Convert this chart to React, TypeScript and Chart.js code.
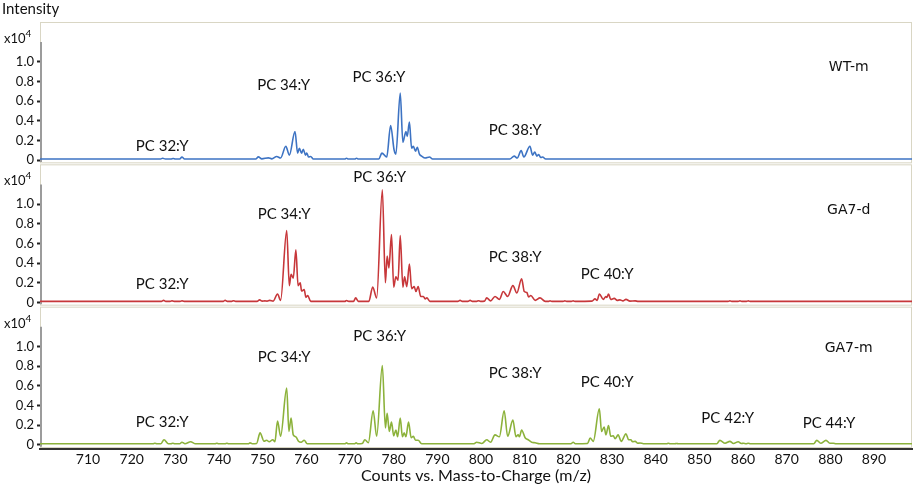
import { useEffect, useRef } from 'react'
import { Chart, registerables, type Plugin, type Scale } from 'chart.js'

Chart.register(...registerables)

// m/z window and intensity window (x10^4) shared by all three panels
const X_MIN = 699
const X_MAX = 898.7
const Y_MIN = -0.044
const Y_MAX = 1.404

const xTicks = [710, 720, 730, 740, 750, 760, 770, 780, 790, 800, 810, 820, 830, 840, 850, 860, 870, 880, 890]
const yTicks = [0, 0.2, 0.4, 0.6, 0.8, 1.0]

const panelNames = ['WT-m', 'GA7-d', 'GA7-m']
const panelNameMz = 884.2
const panelNameY = [0.94, 0.94, 0.98]
const panelColors = ['#3d73c3', '#c7373a', '#8cb23b']
const panelAxes = ['yA', 'yB', 'yC']

// spectra as [m/z, intensity x10^4] (peak tops and valleys)
const wtM: [number, number][] = [
  [699, 0.01],
  [726.6, 0.01], [727.1, 0.018], [727.7, 0.01], [729.0, 0.01], [729.5, 0.016], [730.0, 0.01],
  [731.0, 0.01], [731.5, 0.03], [732.1, 0.01],
  [748.4, 0.01], [749.0, 0.032], [749.8, 0.012], [751.3, 0.022], [752.1, 0.012], [753.2, 0.035],
  [754.1, 0.02], [755.3, 0.14], [756.1, 0.05], [757.4, 0.29], [758.0, 0.07], [758.4, 0.12],
  [758.9, 0.07], [759.3, 0.11], [759.8, 0.05], [760.1, 0.07], [760.5, 0.03], [761.0, 0.035], [761.6, 0.01],
  [768.8, 0.01], [769.2, 0.018], [769.6, 0.01], [771.1, 0.01], [771.5, 0.018], [771.9, 0.01],
  [776.6, 0.01], [777.3, 0.07], [778.4, 0.03], [779.3, 0.35], [780.1, 0.1], [780.5, 0.06],
  [781.5, 0.68], [782.1, 0.18], [782.8, 0.29], [783.1, 0.24], [783.6, 0.385], [784.1, 0.12],
  [784.5, 0.14], [785.0, 0.09], [785.4, 0.13], [785.9, 0.06], [786.4, 0.04], [787.2, 0.02],
  [788.2, 0.03], [788.9, 0.01],
  [806.6, 0.01], [807.6, 0.04], [808.3, 0.02], [809.2, 0.095], [809.8, 0.03], [811.2, 0.14],
  [811.8, 0.05], [812.3, 0.08], [812.8, 0.04], [813.2, 0.055], [813.7, 0.025], [814.1, 0.03], [814.8, 0.01],
  [898.7, 0.01],
]

const ga7d: [number, number][] = [
  [699, 0.01],
  [726.8, 0.01], [727.3, 0.02], [727.8, 0.01], [728.8, 0.01], [729.2, 0.015], [729.7, 0.01],
  [731.1, 0.01], [731.5, 0.015], [732.0, 0.01],
  [741.0, 0.01], [741.4, 0.022], [741.9, 0.01], [742.9, 0.01], [743.3, 0.016], [743.8, 0.01],
  [748.7, 0.01], [749.3, 0.025], [749.9, 0.012], [750.5, 0.015], [751.0, 0.012], [751.6, 0.02],
  [752.4, 0.012], [753.4, 0.085], [754.1, 0.02], [755.5, 0.73], [756.1, 0.17], [756.5, 0.285],
  [757.0, 0.245], [757.6, 0.535], [758.1, 0.17], [758.6, 0.2], [758.9, 0.115], [759.5, 0.13],
  [759.9, 0.05], [760.3, 0.07], [761.0, 0.01],
  [768.8, 0.01], [769.2, 0.018], [769.7, 0.01], [770.8, 0.01], [771.3, 0.045], [771.9, 0.01],
  [774.3, 0.01], [775.2, 0.155], [776.1, 0.045], [777.4, 1.145], [778.1, 0.2], [778.5, 0.47],
  [778.9, 0.35], [779.5, 0.69], [780.0, 0.155], [780.5, 0.26], [781.0, 0.225], [781.5, 0.68],
  [782.1, 0.155], [782.5, 0.26], [783.0, 0.16], [783.6, 0.39], [784.1, 0.14], [784.7, 0.16],
  [785.1, 0.11], [785.6, 0.16], [786.2, 0.06], [786.8, 0.06], [787.2, 0.035], [787.6, 0.045], [788.3, 0.01],
  [794.7, 0.01], [795.2, 0.02], [795.7, 0.01], [797.0, 0.01], [797.5, 0.02], [798.0, 0.01],
  [799.0, 0.01], [799.4, 0.016], [799.9, 0.01], [800.8, 0.012], [801.3, 0.045], [802.2, 0.015],
  [803.2, 0.06], [804.2, 0.03], [805.1, 0.11], [806.1, 0.06], [807.3, 0.17], [808.2, 0.095],
  [809.3, 0.24], [809.9, 0.11], [810.5, 0.1], [810.9, 0.055], [811.4, 0.07], [812.4, 0.02],
  [813.5, 0.045], [814.7, 0.01], [815.5, 0.01], [815.8, 0.015], [816.2, 0.01],
  [818.8, 0.01], [819.2, 0.015], [819.6, 0.01], [820.7, 0.01], [821.1, 0.015], [821.5, 0.01],
  [825.4, 0.012], [826.1, 0.035], [826.6, 0.02], [827.1, 0.085], [828.0, 0.03], [828.6, 0.06],
  [828.8, 0.05], [829.2, 0.085], [829.7, 0.03], [830.5, 0.04], [831.2, 0.02], [831.8, 0.025],
  [832.5, 0.015], [833.2, 0.03], [834.1, 0.012], [835.3, 0.015], [836.0, 0.01],
  [856.6, 0.01], [857.0, 0.015], [857.4, 0.01], [858.9, 0.01], [859.3, 0.015], [859.7, 0.01],
  [860.8, 0.01], [861.2, 0.015], [861.6, 0.01],
  [898.7, 0.01],
]

const ga7m: [number, number][] = [
  [699, 0.01],
  [724.9, 0.01], [725.3, 0.015], [725.8, 0.01], [726.7, 0.01], [727.4, 0.05], [728.4, 0.01],
  [729.0, 0.01], [729.4, 0.014], [729.9, 0.01], [731.0, 0.01], [731.5, 0.025], [732.2, 0.01],
  [733.5, 0.03], [734.5, 0.01],
  [739.1, 0.01], [739.5, 0.015], [739.9, 0.01], [741.4, 0.01], [741.8, 0.015], [742.2, 0.01],
  [746.7, 0.01], [747.1, 0.018], [747.6, 0.01], [748.6, 0.012], [749.4, 0.12], [750.3, 0.035],
  [750.9, 0.045], [751.5, 0.03], [752.3, 0.05], [752.8, 0.03], [753.4, 0.24], [754.1, 0.085],
  [755.5, 0.575], [756.0, 0.135], [756.5, 0.27], [757.0, 0.1], [757.6, 0.08], [758.2, 0.035],
  [758.8, 0.025], [759.5, 0.045], [760.2, 0.01],
  [768.8, 0.01], [769.2, 0.018], [769.6, 0.01], [771.0, 0.01], [771.4, 0.018], [771.8, 0.01],
  [772.8, 0.012], [773.4, 0.05], [774.2, 0.02], [775.3, 0.345], [776.1, 0.085], [777.4, 0.805],
  [778.1, 0.17], [778.5, 0.32], [779.0, 0.135], [779.5, 0.23], [780.0, 0.09], [780.5, 0.15],
  [780.9, 0.08], [781.5, 0.27], [782.0, 0.08], [782.4, 0.12], [782.8, 0.08], [783.4, 0.23],
  [784.0, 0.07], [784.5, 0.085], [785.0, 0.045], [785.6, 0.045], [786.4, 0.01],
  [798.4, 0.01], [799.0, 0.025], [800.2, 0.012], [801.3, 0.05], [802.2, 0.025], [803.2, 0.1],
  [804.2, 0.08], [805.3, 0.345], [806.1, 0.085], [807.3, 0.25], [808.0, 0.08], [808.5, 0.1],
  [808.8, 0.08], [809.3, 0.15], [810.1, 0.07], [810.8, 0.05], [811.6, 0.025], [812.4, 0.02], [813.4, 0.01],
  [820.6, 0.01], [821.1, 0.024], [821.6, 0.01], [824.4, 0.012], [825.0, 0.068], [825.7, 0.034],
  [827.1, 0.365], [827.6, 0.135], [828.2, 0.18], [828.6, 0.1], [829.2, 0.195], [829.7, 0.085],
  [830.3, 0.09], [830.7, 0.06], [831.4, 0.1], [832.1, 0.034], [833.2, 0.11], [833.8, 0.05],
  [834.3, 0.05], [834.7, 0.03], [835.3, 0.034], [835.9, 0.015], [836.4, 0.017], [837.2, 0.01],
  [842.5, 0.01], [842.9, 0.015], [843.3, 0.01], [844.4, 0.01], [844.8, 0.012], [845.2, 0.01],
  [854.0, 0.01], [854.7, 0.044], [855.9, 0.015], [857.0, 0.034], [857.8, 0.012], [858.9, 0.03],
  [859.6, 0.012], [860.1, 0.015], [860.7, 0.01], [861.2, 0.015], [861.7, 0.01],
  [876.2, 0.01], [876.9, 0.044], [877.8, 0.015], [879.0, 0.044], [879.9, 0.015], [880.7, 0.015], [881.3, 0.01],
  [898.7, 0.01],
]

const spectra = [wtM, ga7d, ga7m]

// [panel, text, m/z, intensity] for the lipid class labels
const peakLabels: [number, string, number, number][] = [
  [0, 'PC 32:Y', 727, 0.14],
  [0, 'PC 34:Y', 754.8, 0.76],
  [0, 'PC 36:Y', 776.6, 0.84],
  [0, 'PC 38:Y', 807.8, 0.3],
  [1, 'PC 32:Y', 727, 0.18],
  [1, 'PC 34:Y', 754.9, 0.9],
  [1, 'PC 36:Y', 776.8, 1.27],
  [1, 'PC 38:Y', 807.8, 0.46],
  [1, 'PC 40:Y', 828.9, 0.29],
  [2, 'PC 32:Y', 727, 0.23],
  [2, 'PC 34:Y', 754.9, 0.89],
  [2, 'PC 36:Y', 776.8, 1.1],
  [2, 'PC 38:Y', 807.8, 0.73],
  [2, 'PC 40:Y', 828.9, 0.64],
  [2, 'PC 42:Y', 856.5, 0.27],
  [2, 'PC 44:Y', 879.7, 0.22],
]

const FONT = 'Lato, "Open Sans", sans-serif'
const INK = '#111'

const overlay: Plugin<'line'> = {
  id: 'overlay',
  beforeDatasetsDraw(chart) {
    const { ctx, chartArea } = chart
    ctx.save()
    panelAxes.forEach((id) => {
      const s = chart.scales[id]
      // panel frame
      ctx.strokeStyle = '#d9d6c4'
      ctx.lineWidth = 1
      ctx.strokeRect(chartArea.left + 0.5, s.top + 0.5, chartArea.right - chartArea.left - 1, s.bottom - s.top - 2)
      // grey y axis bar
      ctx.strokeStyle = '#9c9c9c'
      ctx.lineWidth = 2
      ctx.beginPath()
      ctx.moveTo(chartArea.left + 1, s.getPixelForValue(1.2))
      ctx.lineTo(chartArea.left + 1, s.getPixelForValue(0) + 2)
      ctx.stroke()
    })
    ctx.restore()
  },
  afterDraw(chart) {
    const { ctx } = chart
    const x = chart.scales.x
    ctx.save()
    ctx.fillStyle = INK

    ctx.font = `15px ${FONT}`
    ctx.textAlign = 'left'
    ctx.textBaseline = 'middle'
    ctx.fillText('Intensity', 2, 9)

    panelAxes.forEach((id, i) => {
      const s = chart.scales[id]
      // x10^4 multiplier
      ctx.textAlign = 'left'
      ctx.textBaseline = 'alphabetic'
      ctx.font = `13px ${FONT}`
      ctx.fillText('x10', 4, s.top + 21)
      const w = ctx.measureText('x10').width
      ctx.font = `10px ${FONT}`
      ctx.fillText('4', 4 + w, s.top + 15)

      ctx.textAlign = 'center'
      ctx.textBaseline = 'middle'
      ctx.font = '14px "DejaVu Sans", sans-serif'
      ctx.fillText(panelNames[i], x.getPixelForValue(panelNameMz), s.getPixelForValue(panelNameY[i]))
    })

    ctx.font = `15px ${FONT}`
    ctx.textAlign = 'center'
    ctx.textBaseline = 'middle'
    peakLabels.forEach(([p, text, mz, v]) => {
      const s = chart.scales[panelAxes[p]]
      ctx.fillText(text, x.getPixelForValue(mz), s.getPixelForValue(v))
    })
    ctx.restore()
  },
}

function yScale(weight: number) {
  return {
    type: 'linear' as const,
    position: 'left' as const,
    stack: 'panels',
    stackWeight: 1,
    weight,
    min: Y_MIN,
    max: Y_MAX,
    afterBuildTicks: (s: Scale) => {
      s.ticks = yTicks.map((value) => ({ value }))
    },
    afterFit: (s: Scale) => {
      s.width = 40
    },
    border: { display: false },
    grid: { drawOnChartArea: false, tickLength: 3, tickColor: '#222', tickWidth: 2 },
    ticks: {
      autoSkip: false,
      padding: 3,
      color: INK,
      font: { family: FONT, size: 13 },
      callback: (v: number | string) => (Number(v) === 0 ? '0' : Number(v).toFixed(1)),
    },
  }
}

export default function App() {
  const canvasRef = useRef<HTMLCanvasElement>(null)

  useEffect(() => {
    if (!canvasRef.current) return
    const chart = new Chart(canvasRef.current, {
      type: 'line',
      data: {
        datasets: spectra.map((pts, i) => ({
          data: pts.map(([mz, v]) => ({ x: mz, y: v })),
          yAxisID: panelAxes[i],
          borderColor: panelColors[i],
          borderWidth: 1.6,
          pointRadius: 0,
          cubicInterpolationMode: 'monotone' as const,
          fill: false,
        })),
      },
      options: {
        responsive: false,
        animation: false,
        layout: { padding: { top: 22, right: 4, left: 0, bottom: 0 } },
        plugins: { legend: { display: false }, tooltip: { enabled: false } },
        scales: {
          x: {
            type: 'linear',
            position: 'bottom',
            min: X_MIN,
            max: X_MAX,
            afterBuildTicks: (s: Scale) => {
              s.ticks = xTicks.map((value) => ({ value }))
            },
            afterFit: (s: Scale) => {
              s.height = 40
            },
            border: { display: true, color: '#333', width: 2 },
            grid: { drawOnChartArea: false, drawTicks: false },
            ticks: {
              autoSkip: false,
              padding: 2,
              color: INK,
              font: { family: FONT, size: 14 },
              maxRotation: 0,
              callback: (v: number | string) => String(v),
            },
            title: {
              display: true,
              text: 'Counts vs. Mass-to-Charge (m/z)',
              color: INK,
              font: { family: FONT, size: 16 },
              padding: { top: 0, bottom: 4 },
            },
          },
          yA: yScale(3),
          yB: yScale(2),
          yC: yScale(1),
        },
      },
      plugins: [overlay],
    })
    return () => chart.destroy()
  }, [])

  return (
    <div style={{ position: 'fixed', left: 0, top: 0, width: 916, height: 489, background: '#fff' }}>
      <canvas ref={canvasRef} width={916} height={489} style={{ width: 916, height: 489 }} />
    </div>
  )
}
